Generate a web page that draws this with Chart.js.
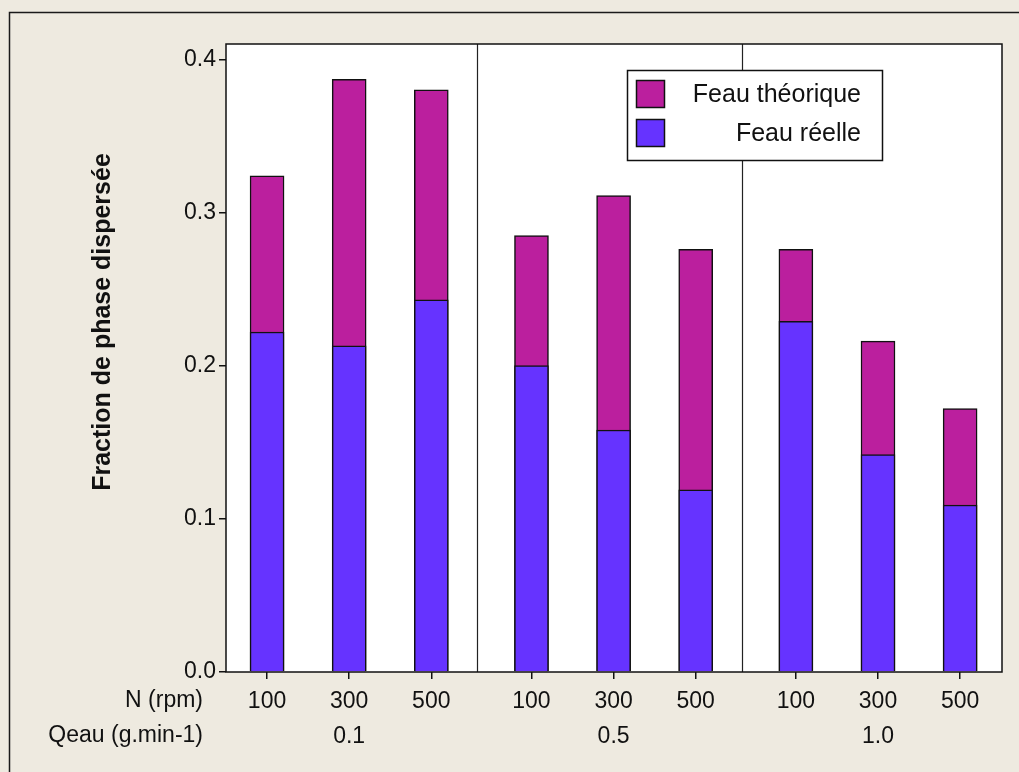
<!DOCTYPE html>
<html>
<head>
<meta charset="utf-8">
<script src="https://cdn.jsdelivr.net/npm/chart.js@4.4.0/dist/chart.umd.min.js"></script>
<style>
  body { margin: 0; background: #EEEAE0; }
  canvas { display: block; }
</style>
</head>
<body>
<canvas id="chart" width="1019" height="772"></canvas>
<script>
// data
const nLabels = ['100', '300', '500'];
const qLabels = ['0.1', '0.5', '1.0'];
const feauTheorique = [0.324, 0.387, 0.380, 0.285, 0.311, 0.276, 0.276, 0.216, 0.172];
const feauReelle = [0.222, 0.213, 0.243, 0.200, 0.158, 0.119, 0.229, 0.142, 0.109];

const colTheo = '#BB1F9E';
const colReel = '#6633FF';
const FONT = 'Liberation Sans, Arial, sans-serif';
const NARROW = '"Liberation Sans Narrow", "Arial Narrow", Liberation Sans, sans-serif';

// bar positions on a linear x axis, with an extra gap between groups
const groupGap = 0.22;
const xPos = feauReelle.map((_, i) => Math.floor(i / 3) * (3 + groupGap) + (i % 3));

function tickLabel(i) {
  if (i % 3 === 1) return [nLabels[i % 3], qLabels[Math.floor(i / 3)]];
  return nLabels[i % 3];
}

// backgrounds, frame, separators, row labels, y title, legend
const decor = {
  id: 'decor',
  beforeDraw(chart) {
    const { ctx, chartArea: a } = chart;
    ctx.save();
    ctx.fillStyle = '#EEEAE0';
    ctx.fillRect(0, 0, chart.width, chart.height);
    ctx.strokeStyle = '#1a1a1a';
    ctx.lineWidth = 1.5;
    ctx.beginPath();
    ctx.moveTo(9.5, chart.height);
    ctx.lineTo(9.5, 12.5);
    ctx.lineTo(chart.width, 12.5);
    ctx.stroke();
    ctx.fillStyle = '#fff';
    ctx.fillRect(a.left, a.top, a.right - a.left, a.bottom - a.top);
    ctx.restore();
  },
  beforeDatasetsDraw(chart) {
    const { ctx, chartArea: a, scales } = chart;
    ctx.save();
    ctx.strokeStyle = '#222';
    ctx.lineWidth = 1.2;
    for (let g = 1; g < qLabels.length; g++) {
      const v = xPos[g * 3 - 1] + (xPos[g * 3] - xPos[g * 3 - 1]) * 0.46;
      const px = Math.round(scales.x.getPixelForValue(v)) + 0.5;
      ctx.beginPath();
      ctx.moveTo(px, a.top);
      ctx.lineTo(px, a.bottom);
      ctx.stroke();
    }
    ctx.restore();
  },
  afterDraw(chart) {
    const { ctx, chartArea: a } = chart;
    ctx.save();
    // plot frame
    ctx.strokeStyle = '#111';
    ctx.lineWidth = 1.5;
    ctx.strokeRect(a.left, a.top, a.right - a.left, a.bottom - a.top);

    // row labels under the x axis
    ctx.fillStyle = '#111';
    ctx.font = '23px ' + FONT;
    ctx.textAlign = 'right';
    ctx.textBaseline = 'middle';
    ctx.fillText('N (rpm)', 203, 701);
    ctx.fillText('Qeau (g.min-1)', 203, 736);

    // y title
    ctx.save();
    ctx.translate(103, 322);
    ctx.rotate(-Math.PI / 2);
    ctx.textAlign = 'center';
    ctx.font = 'bold 25px ' + FONT;
    ctx.fillText('Fraction de phase dispersée', 0, 0);
    ctx.restore();

    // legend
    ctx.fillStyle = '#fff';
    ctx.fillRect(627, 70, 255, 90);
    ctx.strokeStyle = '#111';
    ctx.lineWidth = 1.5;
    ctx.strokeRect(627.5, 70.5, 255, 90);
    const items = [
      { label: 'Feau théorique', color: colTheo, y: 80 },
      { label: 'Feau réelle', color: colReel, y: 119 }
    ];
    items.forEach(it => {
      ctx.fillStyle = it.color;
      ctx.fillRect(636, it.y, 28, 27);
      ctx.strokeStyle = '#111';
      ctx.strokeRect(636.5, it.y + 0.5, 28, 27);
      ctx.fillStyle = '#111';
      ctx.font = '25px ' + FONT;
      ctx.textAlign = 'right';
      ctx.fillText(it.label, 861, it.y + 15);
    });
    ctx.restore();
  }
};

new Chart(document.getElementById('chart'), {
  type: 'bar',
  data: {
    datasets: [
      {
        label: 'Feau théorique',
        data: feauTheorique.map((v, i) => ({ x: xPos[i], y: v })),
        backgroundColor: colTheo,
        borderColor: '#111',
        borderWidth: 1.5,
        order: 1
      },
      {
        label: 'Feau réelle',
        data: feauReelle.map((v, i) => ({ x: xPos[i], y: v })),
        backgroundColor: colReel,
        borderColor: '#111',
        borderWidth: 1.5,
        order: 0
      }
    ]
  },
  options: {
    responsive: false,
    animation: false,
    grouped: false,
    barThickness: 34,
    layout: { padding: { top: 44, right: 17, left: 0, bottom: 0 } },
    plugins: { legend: { display: false }, tooltip: { enabled: false } },
    scales: {
      x: {
        type: 'linear',
        offset: false,
        min: -0.5,
        max: xPos[xPos.length - 1] + 0.51,
        afterBuildTicks: axis => { axis.ticks = xPos.map(v => ({ value: v })); },
        afterFit: axis => { axis.height = 100; },
        grid: { offset: false, drawOnChartArea: false, tickLength: 7, color: '#111', lineWidth: 1.5 },
        border: { display: false },
        ticks: {
          autoSkip: false,
          maxRotation: 0,
          padding: 5,
          color: '#111',
          font: { family: NARROW, size: 23, lineHeight: 35 / 23 },
          callback: (value, i) => tickLabel(i)
        }
      },
      y: {
        min: 0,
        max: 0.41,
        afterFit: axis => { axis.width = 226; },
        grid: { drawOnChartArea: false, tickLength: 7, color: '#111', lineWidth: 1.5 },
        border: { display: false },
        ticks: {
          stepSize: 0.1,
          includeBounds: false,
          padding: 3,
          color: '#111',
          font: { family: FONT, size: 23 },
          callback: v => v.toFixed(1)
        }
      }
    }
  },
  plugins: [decor]
});
</script>
</body>
</html>
